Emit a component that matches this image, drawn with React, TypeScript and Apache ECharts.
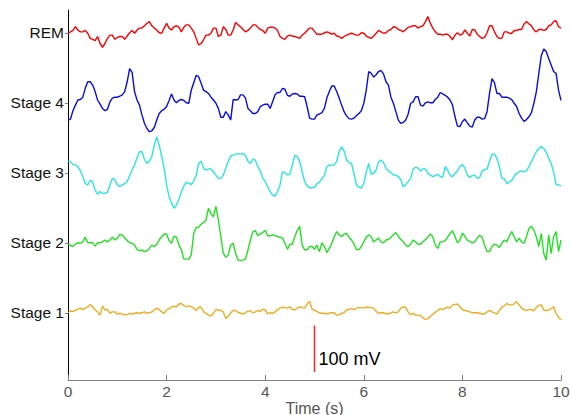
import React, { useEffect, useRef } from "react";
import * as echarts from "echarts";

// Time axis (s), one sample every 0.05 s, 0..10 s
const TIME: number[] = Array.from({ length: 201 }, (_, i) => i / 20);

// Stage labels (bottom to top) and their vertical offsets in mV
const STAGES = ["Stage 1", "Stage 2", "Stage 3", "Stage 4", "REM"];
const OFFSETS = [0, 150, 300, 450, 600];
const COLORS = ["#f0ac1e", "#22e022", "#26e6e6", "#0a0ae6", "#ff0000"];

// Deviations from each trace's baseline (mV)
const STAGE1 = [
  0, 4, 3, 5, 8, 10, 7, 10, 12, 18,
  13, 6, 2, -5, 15, 6, 7, -1, 2, 2,
  -3, -1, -3, -4, -4, -1, -3, -1, 0, -1,
  0, 2, -1, 0, 2, 6, 10, 7, 2, -1,
  6, 9, 12, 14, 13, 19, 20, 16, 13, 15,
  13, 10, 5, 12, 12, 2, -1, -5, -7, -1,
  7, 6, 5, 2, -12, -8, 0, 5, 5, 1,
  -1, -3, 0, 4, 4, 0, 2, 5, 3, 8,
  6, -2, 0, -1, 2, 7, 10, 12, 11, 10,
  13, 7, 6, 10, 13, 11, 10, 19, 25, 8,
  5, 3, 0, -1, -1, -3, -1, 0, 0, -5,
  -4, -1, 0, 6, 8, 9, 7, 10, 11, 11,
  10, 12, 12, 11, 10, 3, -1, 0, 0, -2,
  -2, 0, 2, 0, 2, 10, 13, 11, 2, -4,
  -1, -5, -5, -6, -11, -14, -13, -8, -3, 1,
  5, 9, 7, 10, 12, 10, 17, 18, 19, 13,
  7, 5, 4, 2, 0, 0, 0, -1, -3, -2,
  2, 5, 2, 0, -3, 5, 12, 15, 20, 17,
  17, 19, 24, 17, 10, 7, 5, 7, 7, 4,
  12, 16, 17, 6, 5, 6, 9, 13, -1, -10,
  -15,
];
const STAGE2 = [
  -3, -5, -8, -3, 0, -1, 2, 12, 0, 0,
  0, -7, 0, 0, 2, 6, 2, 6, 12, 6,
  10, 18, 17, 10, 5, 0, -1, -5, -14, -17,
  -15, -19, -17, -12, -5, -8, -3, 6, 13, 19,
  19, 5, -1, 14, 12, -5, -15, -35, -35, -35,
  -26, 20, 33, 33, 40, 43, 49, 74, 62, 56,
  78, 49, 13, -22, -31, -26, -5, -1, -23, -37,
  -38, -37, -35, -15, 6, 24, 26, 15, 19, 22,
  27, 15, 15, 17, 16, 13, 12, 10, -1, -14,
  -3, -3, 13, 27, 35, -5, -15, -15, -8, -8,
  -14, -5, -19, 0, -8, -21, -12, -1, 13, 24,
  17, 13, 19, 20, 12, 6, -3, -14, -15, -8,
  2, 12, 17, 13, 2, 6, 10, 2, 0, 6,
  7, 12, 17, 22, 14, 7, 2, -5, -8, -3,
  6, 2, -3, -3, 2, 7, 12, 19, 13, -5,
  -12, 2, 2, 5, 12, 20, 26, 13, 0, 6,
  21, 14, 5, 3, 0, 2, 10, 16, 12, -5,
  -19, -19, -8, -3, -5, -10, -1, 6, 2, 14,
  24, 13, 2, 10, 2, -1, 13, 31, 35, 27,
  13, -8, 20, -23, -37, 17, -23, 13, 24, -19,
  6,
];
const STAGE3 = [
  25, 24, 18, 17, 13, 4, -8, -23, -26, -16,
  -20, -37, -46, -40, -44, -44, -42, -26, -12, -15,
  -26, -29, -26, -23, -19, -6, 6, 17, 32, 45,
  45, 29, 20, 25, 35, 59, 77, 59, 35, 10,
  -26, -51, -65, -76, -69, -56, -41, -28, -20, -23,
  -25, -18, -6, 20, 25, 10, 6, 8, 8, 2,
  -5, -12, -12, -5, 10, 24, 36, 38, 40, 41,
  40, 41, 37, 25, 20, 29, 27, 13, 4, -12,
  -18, -30, -40, -48, -50, -40, -26, 2, 1, -5,
  -3, 17, 37, 35, 24, 2, -19, -28, -32, -32,
  -31, -23, -20, -12, -6, 13, 17, 16, 17, 24,
  45, 56, 47, 28, 22, 20, -1, -26, -31, -33,
  -23, 2, 20, -3, -1, 6, 24, 27, 22, 10,
  4, 1, -5, -5, -8, -15, -30, -25, -19, -12,
  8, 12, 10, 4, 8, 8, -1, -5, -8, -6,
  -3, -8, -10, 13, 6, -6, -8, -1, 4, 13,
  18, 10, -5, -10, -6, -5, -12, -10, 4, 7,
  8, 24, 40, 40, 31, 13, -12, -13, -23, -20,
  -16, -8, -1, 2, 4, 2, 4, 13, 24, 35,
  45, 52, 56, 52, 44, 31, 20, 2, -25, -26,
  -28,
];
const STAGE4 = [
  -37, -35, -17, -5, 6, 7, 12, 31, 45, 45,
  38, 24, 6, -3, -12, -17, -14, 2, 10, 12,
  12, 14, 17, 24, 45, 73, 65, 24, 6, -5,
  -26, -44, -55, -62, -60, -53, -37, -23, -17, -14,
  -8, 5, 19, 6, 0, 5, 7, 5, 0, -1,
  27, 43, 59, 56, 42, 27, 24, 20, 12, 6,
  -1, -12, -31, -31, -19, -26, -37, 7, 6, 7,
  17, 17, 10, -12, -17, -23, -23, -19, -8, -5,
  -3, -3, -12, 2, 17, 22, 22, 31, 29, 16,
  14, 19, 20, 19, 14, 14, 13, -8, -33, -35,
  -35, -26, -24, -21, -12, 10, 24, 36, 36, 24,
  10, -5, -19, -28, -34, -35, -33, -28, -23, -17,
  -1, 27, 67, 63, 55, 60, 67, 69, 62, 45,
  38, 12, -1, -19, -37, -44, -42, -37, -24, -1,
  2, 13, 13, -5, -7, 0, 2, 0, 0, 7,
  12, 22, 19, 16, 12, 6, -5, -30, -50, -51,
  -40, -35, -43, -50, -52, -37, -31, -31, -35, -34,
  -19, 20, 52, 43, 20, 20, 12, 12, 12, 10,
  7, -1, -8, -23, -33, -40, -36, -30, -21, -1,
  24, 63, 101, 115, 110, 95, 81, 67, 63, 27,
  5,
];
const REM = [
  -1, 2, 5, 13, 6, 2, 2, 5, -1, -12,
  -14, -17, -8, -23, -31, -23, -12, -5, -5, -14,
  -10, -8, -8, -14, -7, 0, 5, -1, 6, 10,
  10, 15, 20, 24, 15, 10, 6, 0, -1, 10,
  20, 10, 6, 13, 15, 12, 2, 12, 17, 17,
  10, 2, -12, -26, -23, -15, -5, -5, -1, 10,
  10, -8, -5, 13, 7, -5, -5, 6, 22, 17,
  13, 7, 2, 5, 10, 17, 17, 12, 7, 5,
  -1, 10, 12, 12, 10, 5, -8, -12, -14, -7,
  -5, -7, -8, -10, -12, -5, -1, 5, 10, 10,
  3, -3, -3, -3, 0, 2, 0, -3, -1, -7,
  -8, -12, -8, -5, -3, -1, -3, -5, -5, 0,
  -1, -7, -10, -12, -7, -1, 5, 2, -1, 0,
  5, 7, 13, 12, 7, 5, 2, 7, 12, 13,
  15, 15, 10, 13, 15, 24, 35, 20, 10, 2,
  -3, -3, -5, -3, -3, -8, -15, -5, 0, -5,
  -3, 6, -1, -7, 7, 6, -3, -8, -12, -10,
  0, 15, 15, 2, -8, -12, -12, 2, 2, -1,
  -1, 5, 5, 7, 7, 19, 24, 19, 15, 6,
  2, 7, 7, 5, 7, 15, 17, 24, 26, 13,
  10,
];
const TRACES = [STAGE1, STAGE2, STAGE3, STAGE4, REM];

// Scale bar: 100 mV at t = 5 s
const SCALE_T = 5;
const SCALE_RANGE = [-27, -127];
const SCALE_LABEL = "100 mV";

const Y_MIN = -135.4;
const Y_MAX = 648.8;
const FONT = "'Liberation Sans', Arial, Helvetica, sans-serif";

export default function App() {
  const ref = useRef<HTMLDivElement>(null);
  useEffect(() => {
    if (!ref.current) return;
    const chart = echarts.init(ref.current, undefined, { renderer: "svg" });
    const series: any[] = TRACES.map((vals, k) => ({
      type: "line",
      name: STAGES[k],
      showSymbol: false,
      symbol: "none",
      silent: true,
      data: TIME.map((t, i) => [t, OFFSETS[k] + vals[i]]),
      lineStyle: { color: COLORS[k], width: 1.4 },
      itemStyle: { color: COLORS[k] },
      z: 2 + k,
    }));
    series.push({
      type: "line",
      name: "scale",
      showSymbol: false,
      symbol: "none",
      silent: true,
      data: SCALE_RANGE.map((v) => [SCALE_T, v]),
      lineStyle: { color: "#f03030", width: 1.6 },
      endLabel: {
        show: true,
        formatter: SCALE_LABEL,
        color: "#000",
        fontSize: 18,
        fontFamily: FONT,
        distance: 4,
        offset: [0, -13],
      },
    });
    chart.setOption({
      animation: false,
      backgroundColor: "#fff",
      textStyle: { fontFamily: FONT },
      grid: {
        left: 68,
        right: 9,
        top: 10,
        bottom: 39,
        containLabel: false,
        outerBoundsMode: "none",
      },
      xAxis: {
        type: "value",
        min: 0,
        max: 10,
        interval: 2,
        offset: 4,
        name: "Time (s)",
        nameLocation: "middle",
        nameGap: 20,
        nameMoveOverlap: false,
        nameTextStyle: { color: "#555", fontSize: 16, fontFamily: FONT },
        axisLine: { show: true, onZero: false, lineStyle: { color: "#808080", width: 1 } },
        axisTick: { show: true, inside: true, length: 5, lineStyle: { color: "#808080" } },
        axisLabel: { color: "#555", fontSize: 15.5, margin: 3, fontFamily: FONT },
        splitLine: { show: false },
      },
      yAxis: {
        type: "value",
        min: Y_MIN,
        max: Y_MAX,
        axisLine: { show: true, onZero: false, lineStyle: { color: "#000", width: 1 } },
        axisTick: {
          show: true,
          length: 3,
          customValues: OFFSETS,
          lineStyle: { color: "#808080" },
        },
        axisLabel: {
          customValues: OFFSETS,
          formatter: (v: number) => {
            const idx = OFFSETS.findIndex((o) => Math.abs(o - v) < 1);
            return idx >= 0 ? STAGES[idx] : "";
          },
          color: "#111",
          fontSize: 15.5,
          margin: 4,
          fontFamily: FONT,
        },
        splitLine: { show: false },
      },
      series,
    });
    return () => chart.dispose();
  }, []);
  return (
    <div
      ref={ref}
      style={{ position: "fixed", left: 0, top: 0, width: 570, height: 415, background: "#fff" }}
    />
  );
}
